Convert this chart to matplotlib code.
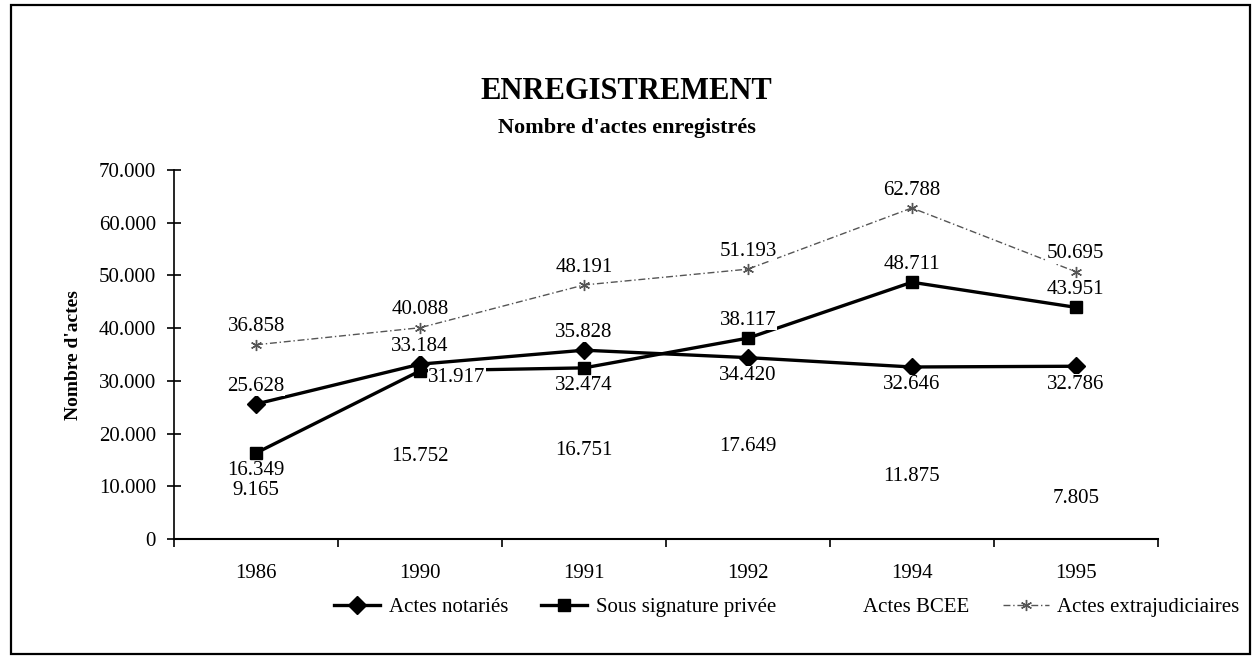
import matplotlib.pyplot as plt
from matplotlib.patches import Rectangle

# data
years = ['1986', '1990', '1991', '1992', '1994', '1995']
notaries = [25628, 33184, 35828, 34420, 32646, 32786]
private = [16349, 31917, 32474, 38117, 48711, 43951]
bcee = [9165, 15752, 16751, 17649, 11875, 7805]
extrajud = [36858, 40088, 48191, 51193, 62788, 50695]

# where each value label sits relative to its point
pos_notaries = ['above', 'above', 'above', 'below', 'below', 'below']
pos_private = ['below', 'right', 'below', 'above', 'above', 'above']
pos_bcee = ['center'] * 6
pos_extrajud = ['above'] * 6

plt.rcParams['font.family'] = ['Liberation Serif', 'DejaVu Serif']

fig = plt.figure(figsize=(12.53, 6.56), dpi=100)
ax = fig.add_axes([0.139, 0.178, 0.785, 0.563])
x = range(len(years))

ax.plot(x, notaries, color='black', lw=2.4, marker='D', ms=9, label='Actes notariés', zorder=3)
ax.plot(x, private, color='black', lw=2.4, marker='s', ms=9, label='Sous signature privée', zorder=3)
ax.plot(x, bcee, color='white', lw=0, label='Actes BCEE', zorder=1)
ax.plot(x, extrajud, color='#555555', lw=1.0, ls=(0, (5, 2, 1, 2)), marker=(6, 2, 0), ms=8,
        label='Actes extrajudiciaires', zorder=3)

offsets = {'above': (0, 6, 'center', 'bottom'), 'below': (0, -6, 'center', 'top'),
           'right': (6, -5, 'left', 'center'), 'center': (0, 0, 'center', 'center')}

def put_labels(vals, where):
    for i, v in enumerate(vals):
        dx, dy, ha, va = offsets[where[i]]
        ax.annotate(f'{v:,}'.replace(',', '.'), (i, v), xytext=(dx, dy), textcoords='offset points',
                    ha=ha, va=va, fontsize=15, zorder=4,
                    bbox=dict(facecolor='white', edgecolor='none', pad=0.3))

put_labels(notaries, pos_notaries)
put_labels(private, pos_private)
put_labels(bcee, pos_bcee)
put_labels(extrajud, pos_extrajud)

ax.set_xlim(-0.5, 5.5)
ax.set_ylim(0, 70000)
ax.set_yticks(range(0, 70001, 10000))
ax.set_yticklabels(['0'] + [f'{v // 1000}.000' for v in range(10000, 70001, 10000)])
ax.tick_params(axis='y', direction='inout', length=10, width=1.2, labelsize=15, pad=8)
ax.set_xticks([i - 0.5 for i in range(len(years) + 1)])
ax.set_xticklabels([])
ax.set_xticks(list(x), minor=True)
ax.set_xticklabels(years, minor=True, fontsize=15)
ax.tick_params(axis='x', which='major', direction='out', length=6, width=1.2)
ax.tick_params(axis='x', which='minor', length=0, pad=18)
for s in ['top', 'right']:
    ax.spines[s].set_visible(False)
ax.spines['left'].set_linewidth(1.2)
ax.spines['bottom'].set_linewidth(1.5)
ax.set_ylabel("Nombre d'actes", fontsize=14, fontweight='bold', labelpad=12)

ax.legend(loc='center', bbox_to_anchor=(0.628, 0.074), bbox_transform=fig.transFigure, ncol=4,
          frameon=False, fontsize=15, handlelength=2.2, columnspacing=1.6, handletextpad=0.4)

fig.text(0.5, 0.86, 'ENREGISTREMENT', ha='center', va='center', fontsize=22, fontweight='bold')
fig.text(0.5, 0.805, "Nombre d'actes enregistrés", ha='center', va='center', fontsize=16, fontweight='bold')

fig.patches.append(Rectangle((0.009, 0.003), 0.989, 0.99, transform=fig.transFigure,
                             fill=False, edgecolor='black', lw=1.6))

fig.savefig('out.png', dpi=100)
